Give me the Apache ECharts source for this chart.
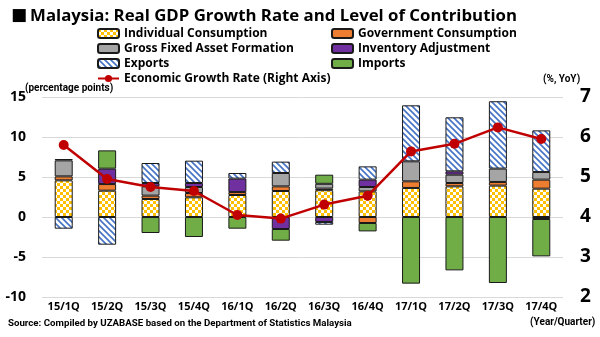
<!DOCTYPE html>
<html>
<head>
<meta charset="utf-8">
<script src="https://cdn.jsdelivr.net/npm/echarts@6/dist/echarts.min.js"></script>
<style>
  html, body { margin: 0; padding: 0; background: #fff; }
  #chart { width: 600px; height: 337px; }
</style>
</head>
<body>
<div id="chart"></div>
<script>
// Quarters on the category axis
const quarters = ['15/1Q', '15/2Q', '15/3Q', '15/4Q', '16/1Q', '16/2Q', '16/3Q', '16/4Q', '17/1Q', '17/2Q', '17/3Q', '17/4Q'];

// Contribution to growth, percentage points
const individualConsumption = [4.58, 3.29, 2.25, 2.46, 2.75, 3.25, 3.35, 3.2, 3.63, 3.83, 3.92, 3.54];
const governmentConsumption = [0.5, 0.83, 0.42, 0.54, 0.37, 0.58, 0.2, -0.75, 0.83, 0.42, 0.46, 1.13];
const grossFixedAssetFormation = [2.0, 0, 1.16, 0.75, 0, 1.67, 0.6, 0.55, 2.5, 1.04, 1.67, 0.96];
const inventoryAdjustment = [0, 1.92, 0.42, 0.5, 1.68, -1.5, -0.62, 0.92, 0, 0.42, 0, -0.25];
const exportsContribution = [-1.46, -3.46, 2.5, 2.79, 0.7, 1.42, -0.34, 1.66, 7.0, 6.75, 8.42, 5.2];
const importsContribution = [0.17, 2.29, -2.0, -2.5, -1.46, -1.46, 1.14, -1.05, -8.33, -6.67, -8.25, -4.67];

// Real GDP growth, % YoY (right axis)
const growthRate = [5.8, 4.95, 4.75, 4.65, 4.05, 3.96, 4.31, 4.53, 5.64, 5.83, 6.24, 5.95];

// Axis tick values
const leftTicks = { min: -10, max: 15, interval: 5 };
const rightTicks = { min: 2, max: 7, interval: 1 };

const FONT = '"Open Sans", Roboto, sans-serif';
const SMALL_FONT = 'Roboto, "Open Sans", sans-serif';

function checkerPattern() {
  const c = document.createElement('canvas');
  c.width = 6; c.height = 6;
  const g = c.getContext('2d');
  g.fillStyle = '#ffffff';
  g.fillRect(0, 0, 6, 6);
  g.fillStyle = '#FFC000';
  g.fillRect(0, 0, 3, 3);
  g.fillRect(3, 3, 3, 3);
  return { image: c, repeat: 'repeat' };
}

function stripePattern() {
  const c = document.createElement('canvas');
  c.width = 6; c.height = 6;
  const g = c.getContext('2d');
  g.fillStyle = '#ffffff';
  g.fillRect(0, 0, 6, 6);
  g.strokeStyle = '#4472C4';
  g.lineWidth = 1.6;
  g.beginPath();
  g.moveTo(-1, -1); g.lineTo(7, 7);
  g.moveTo(-4, 2); g.lineTo(4, 10);
  g.moveTo(2, -4); g.lineTo(10, 4);
  g.stroke();
  return { image: c, repeat: 'repeat' };
}

const barStyle = (color) => ({ color: color, borderColor: '#1a1a1a', borderWidth: 1 });

function barSeries(name, data, color) {
  return {
    name: name,
    type: 'bar',
    stack: 'contrib',
    barWidth: 18,
    // an empty segment is left out rather than drawn as a flat outline
    data: data.map(v => (v === 0 ? '-' : v)),
    itemStyle: barStyle(color),
    emphasis: { disabled: true }
  };
}

const chart = echarts.init(document.getElementById('chart'), null, { renderer: 'canvas' });

const legendText = { fontFamily: FONT, fontWeight: 'bold', fontSize: 12, color: '#000', lineHeight: 15 };

chart.setOption({
  animation: false,
  backgroundColor: '#ffffff',
  title: {
    text: '{sq|■}Malaysia: Real GDP Growth Rate and Level of Contribution',
    left: 6,
    top: 2,
    textStyle: {
      fontFamily: FONT, fontWeight: 'bold', fontSize: 16.8, color: '#000',
      rich: { sq: { fontSize: 17, fontFamily: 'DejaVu Sans', color: '#000', padding: [0, 3, 1, 0] } }
    }
  },
  legend: [
    {
      orient: 'vertical',
      left: 97,
      top: 26,
      padding: 0,
      itemWidth: 21,
      itemHeight: 9,
      itemGap: 0,
      textStyle: legendText,
      data: ['Individual Consumption', 'Gross Fixed Asset Formation', 'Exports', 'Economic Growth Rate (Right Axis)']
    },
    {
      orient: 'vertical',
      left: 331,
      top: 26,
      padding: 0,
      itemWidth: 21,
      itemHeight: 9,
      itemGap: 0,
      textStyle: legendText,
      data: ['Government Consumption', 'Inventory Adjustment', 'Imports']
    }
  ],
  grid: { left: 42, right: 37, top: 97, bottom: 40, containLabel: false },
  xAxis: {
    type: 'category',
    data: quarters,
    axisLine: { show: false },
    axisTick: { show: false },
    axisLabel: { interval: 0, fontFamily: FONT, fontWeight: 'bold', fontSize: 11, color: '#000', margin: 4 }
  },
  yAxis: [
    {
      type: 'value',
      min: leftTicks.min,
      max: leftTicks.max,
      interval: leftTicks.interval,
      axisLine: { show: false },
      axisTick: { show: false },
      splitLine: { lineStyle: { color: '#d9d9d9', width: 1 } },
      axisLabel: { fontFamily: FONT, fontWeight: 'bold', fontSize: 14, color: '#000', margin: 16 }
    },
    {
      type: 'value',
      min: rightTicks.min,
      max: rightTicks.max,
      interval: rightTicks.interval,
      axisLine: { show: false },
      axisTick: { show: false },
      splitLine: { show: false },
      axisLabel: { fontFamily: FONT, fontWeight: 'bold', fontSize: 19, color: '#000', margin: 17 }
    }
  ],
  graphic: [
    { type: 'text', left: 25, top: 83, style: { text: '(percentage points)', fontFamily: SMALL_FONT, fontWeight: 'bold', fontSize: 10, fill: '#000' } },
    { type: 'text', left: 543, top: 74, style: { text: '(%, YoY)', fontFamily: SMALL_FONT, fontWeight: 'bold', fontSize: 10, fill: '#000' } },
    { type: 'text', left: 530, top: 317, style: { text: '(Year/Quarter)', fontFamily: SMALL_FONT, fontWeight: 'bold', fontSize: 10, fill: '#000' } },
    { type: 'text', left: 8, top: 319, style: { text: 'Source: Compiled by UZABASE based on the Department of Statistics Malaysia', fontFamily: SMALL_FONT, fontWeight: 'bold', fontSize: 9.7, fill: '#000' } }
  ],
  series: [
    barSeries('Individual Consumption', individualConsumption, checkerPattern()),
    barSeries('Government Consumption', governmentConsumption, '#ED7D31'),
    barSeries('Gross Fixed Asset Formation', grossFixedAssetFormation, '#A5A5A5'),
    barSeries('Inventory Adjustment', inventoryAdjustment, '#7030A0'),
    barSeries('Exports', exportsContribution, stripePattern()),
    barSeries('Imports', importsContribution, '#70AD47'),
    {
      name: 'Economic Growth Rate (Right Axis)',
      type: 'line',
      yAxisIndex: 1,
      data: growthRate,
      z: 10,
      symbol: 'circle',
      symbolSize: 10,
      lineStyle: { color: '#C00000', width: 2.5 },
      itemStyle: { color: '#C00000', borderWidth: 0 },
      emphasis: { disabled: true }
    }
  ]
});
</script>
</body>
</html>
